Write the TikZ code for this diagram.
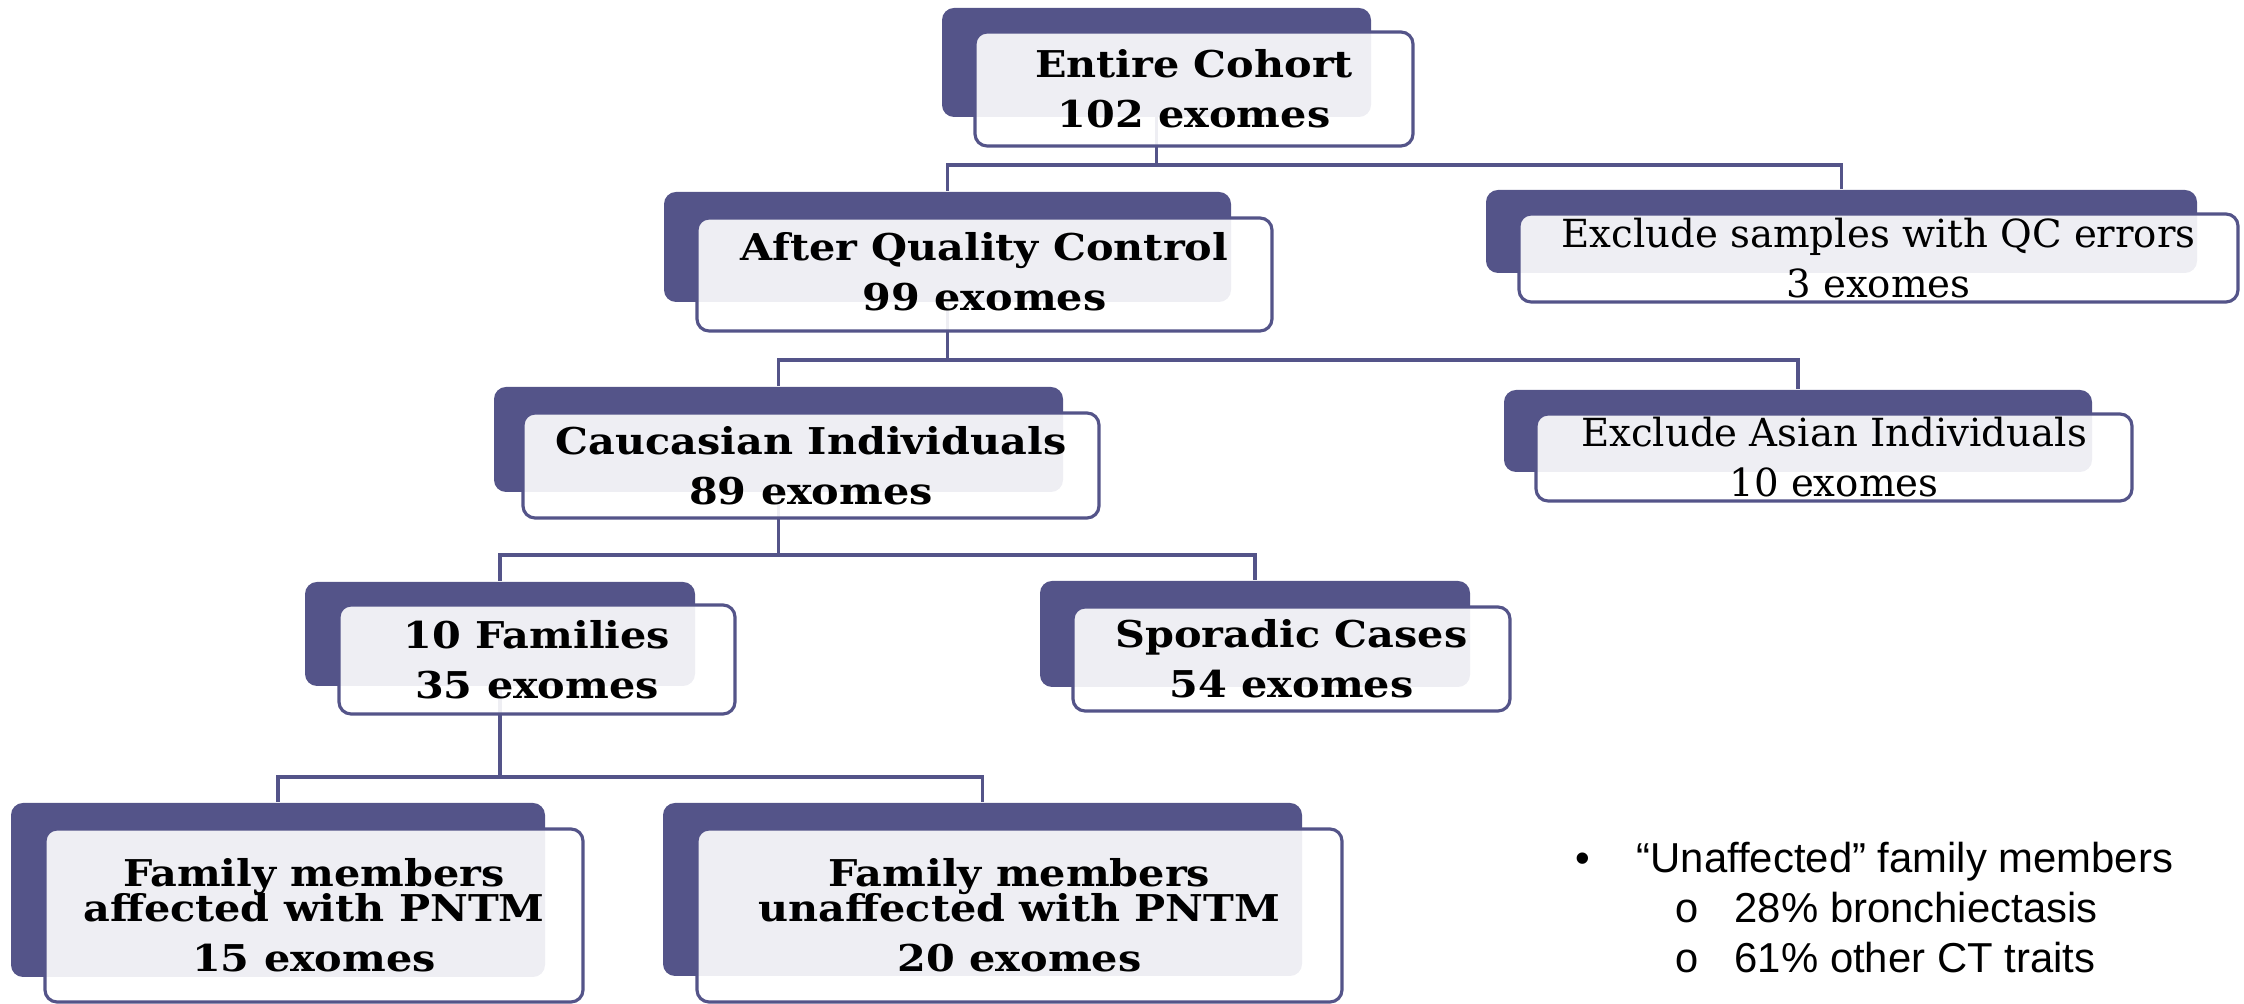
\documentclass[tikz,border=0pt]{standalone}
\usepackage{fontspec}
\setmainfont{DejaVu Serif}
\newfontfamily\boxfont{DejaVu Serif}[FakeStretch=1.12]
\newfontfamily\notefont{Liberation Sans}
\newfontfamily\circfont{Liberation Mono}
\usetikzlibrary{fit,backgrounds}

\definecolor{boxblue}{RGB}{84,84,137}

\tikzset{
  backbox/.style={fill=boxblue, rounded corners=1.2mm, inner sep=0pt},
  frontbox/.style={draw=boxblue, line width=0.9pt, fill=white, fill opacity=0.9,
    rounded corners=1.2mm, inner sep=0pt},
  boxtext/.style={inner sep=0pt, align=center, font=\boxfont\fontsize{10.5}{14.2}\selectfont\bfseries},
  excltext/.style={inner sep=0pt, align=center, font=\fontsize{11}{14.2}\selectfont},
  link/.style={draw=boxblue, line width=0.9pt},
  notetext/.style={inner sep=0pt, font=\notefont\fontsize{11.9}{14}\selectfont}
}

\begin{document}
\begin{tikzpicture}[x=0.01cm,y=-0.01cm]
    \useasboundingbox (0,0) rectangle (2244,1004);

    % level 1
    \node[backbox, fit={(942,8) (1371,117)}] (cohortb) {};
    \node[frontbox, fit={(975,32) (1413,146)}] (cohort) {};
    \node[boxtext] (cohorttext) at (cohort.center) {Entire Cohort\\102 exomes};

    % level 2
    \node[backbox, fit={(664,192) (1231,302)}] (qcb) {};
    \node[frontbox, fit={(697,218) (1272,331)}] (qc) {};
    \node[boxtext] (qctext) at ([yshift=0.3mm]qc.center) {After Quality Control\\99 exomes};
    \node[backbox, fit={(1486,190) (2197,273)}] (exqcb) {};
    \node[frontbox, fit={(1519,214) (2238,302)}] (exqc) {};
    \node[excltext] (exqctext) at (exqc.center) {Exclude samples with QC errors\\3 exomes};

    % level 3
    \node[backbox, fit={(494,387) (1063,492)}] (caucb) {};
    \node[frontbox, fit={(523,413) (1099,518)}] (cauc) {};
    \node[boxtext] (cauctext) at (cauc.center) {Caucasian Individuals\\89 exomes};
    \node[backbox, fit={(1504,390) (2092,472)}] (asianb) {};
    \node[frontbox, fit={(1536,414) (2132,501)}] (asian) {};
    \node[excltext] (asiantext) at (asian.center) {Exclude Asian Individuals\\10 exomes};

    % level 4
    \node[backbox, fit={(305,582) (695,686)}] (famb) {};
    \node[frontbox, fit={(339,605) (735,714)}] (fam) {};
    \node[boxtext] (famtext) at (fam.center) {10 Families\\35 exomes};
    \node[backbox, fit={(1040,581) (1470,687)}] (sporb) {};
    \node[frontbox, fit={(1073,607) (1510,711)}] (spor) {};
    \node[boxtext] (sportext) at (spor.center) {Sporadic Cases\\54 exomes};

    % level 5
    \node[backbox, fit={(11,803) (545,977)}] (affb) {};
    \node[frontbox, fit={(45,829) (583,1002)}] (aff) {};
    \node[boxtext] (afftext) at (aff.center) {Family members\\[-4.2pt]affected with PNTM\\15 exomes};
    \node[backbox, fit={(663,803) (1302,976)}] (unaffb) {};
    \node[frontbox, fit={(697,829) (1342,1002)}] (unaff) {};
    \node[boxtext] (unafftext) at (unaff.center) {Family members\\[-4.2pt]unaffected with PNTM\\20 exomes};

    % connectors, behind the boxes
    \coordinate (j1) at (0,165);
    \coordinate (j2) at (0,360);
    \coordinate (j3) at (0,555);
    \coordinate (j4) at (0,777);
    \begin{pgfonlayer}{background}
        \draw[link] (cohortb.center) -- (cohortb.center |- j1) -| (qcb.north);
        \draw[link] (cohortb.center |- j1) -| (exqcb.north);
        \draw[link] (qcb.center) -- (qcb.center |- j2) -| (caucb.north);
        \draw[link] (qcb.center |- j2) -| (asianb.north);
        \draw[link] (caucb.center) -- (caucb.center |- j3) -| (famb.north);
        \draw[link] (caucb.center |- j3) -| (sporb.north);
        \draw[link] (famb.center) -- (famb.center |- j4) -| (affb.north);
        \draw[link] (famb.center |- j4) -| (unaffb.north);
    \end{pgfonlayer}

    % notes on the right
    \node[notetext, anchor=base] (bul) at (1583,873) {•};
    \node[notetext, anchor=base west] (note1) at (1636,873) {“Unaffected” family members};
    \node[notetext, anchor=base] (circa) at (1687,923) {\circfont o};
    \node[notetext, anchor=base west] (note2) at (1734,923) {28\% bronchiectasis};
    \node[notetext, anchor=base] (circb) at (1687,973) {\circfont o};
    \node[notetext, anchor=base west] (note3) at (1734,973) {61\% other CT traits};
\end{tikzpicture}
\end{document}
